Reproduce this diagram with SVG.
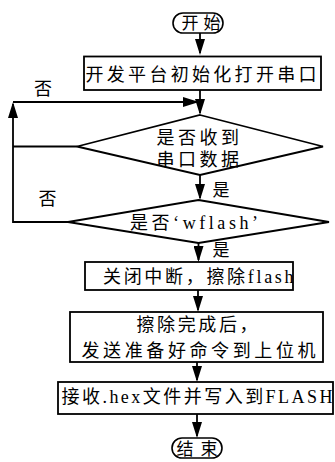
<svg xmlns="http://www.w3.org/2000/svg" width="335" height="462" viewBox="0 0 335 462">
  <defs>
    <marker id="arrow" markerUnits="userSpaceOnUse" markerWidth="16" markerHeight="10" refX="14" refY="5" orient="auto">
      <path d="M0,0 L16,5 L0,10 z" fill="#000"/>
    </marker>
    <style>
      .shape { fill: #fff; stroke: #000; stroke-width: 1.8; }
      .term { fill: #fff; stroke: #000; stroke-width: 1.6; }
      .wire { fill: none; stroke: #000; stroke-width: 1.8; }
      .arr { marker-end: url(#arrow); }
      text { font-family: "Liberation Serif", "Noto Sans CJK SC", serif; font-size: 18px; fill: #000; }
      .small { font-size: 17px; }
    </style>
  </defs>

  <rect width="335" height="462" fill="#fff"/>

  <!-- connectors -->
  <g id="connectors">
    <path class="wire arr" d="M200,33 V53"/>
    <path class="wire arr" d="M200,90 V113"/>
    <path class="wire" d="M77,146.5 H13"/>
    <path class="wire arr" d="M68,222 H13 V104"/>
    <path class="wire arr" d="M13,102 H197"/>
    <path class="wire arr" d="M200,175 V198"/>
    <path class="wire arr" d="M198.5,243 V260"/>
    <path class="wire arr" d="M198,290 V310"/>
    <path class="wire arr" d="M197,362 V380"/>
    <path class="wire arr" d="M197,414 V436"/>
    <text x="34" y="94.5">否</text>
    <text x="38.5" y="204.5">否</text>
    <text class="small" x="212.5" y="196">是</text>
    <text class="small" x="212.5" y="256">是</text>
  </g>

  <!-- start -->
  <g id="start">
    <rect class="term" x="173" y="13" width="50" height="20" rx="10" ry="10"/>
    <text class="small" x="181.5" y="29" textLength="39" lengthAdjust="spacing">开始</text>
  </g>

  <!-- platform init -->
  <g id="init">
    <rect class="shape" x="84" y="56.5" width="237" height="33.5"/>
    <text x="85.5" y="81" textLength="231" lengthAdjust="spacing">开发平台初始化打开串口</text>
  </g>

  <!-- serial data received? -->
  <g id="check-serial">
    <polygon class="shape" points="200,115 323,146.5 200,175 77,146.5"/>
    <text x="156.5" y="144" textLength="82.5" lengthAdjust="spacing">是否收到</text>
    <text x="156.5" y="166" textLength="82.5" lengthAdjust="spacing">串口数据</text>
  </g>

  <!-- 'wflash' command? -->
  <g id="check-wflash">
    <polygon class="shape" points="198.5,200 329,222 198.5,243 68,222"/>
    <text x="130" y="229" textLength="128" lengthAdjust="spacing">是否‘wflash’</text>
  </g>

  <!-- disable interrupts, erase flash -->
  <g id="erase">
    <rect class="shape" x="85" y="262" width="208" height="28"/>
    <text x="103" y="283" textLength="190.5" lengthAdjust="spacing">关闭中断，擦除flash</text>
  </g>

  <!-- report ready to host -->
  <g id="ready">
    <rect class="shape" x="70" y="312" width="253" height="50"/>
    <text x="136.5" y="331" textLength="121" lengthAdjust="spacing">擦除完成后，</text>
    <text x="81.5" y="356.5" textLength="234" lengthAdjust="spacing">发送准备好命令到上位机</text>
  </g>

  <!-- receive hex and program -->
  <g id="program">
    <rect class="shape" x="58" y="382" width="275" height="32"/>
    <text x="61.5" y="403" textLength="271" lengthAdjust="spacing">接收.hex文件并写入到FLASH</text>
  </g>

  <!-- end -->
  <g id="end">
    <rect class="term" x="172" y="438" width="50" height="20" rx="10" ry="10"/>
    <text class="small" x="176.5" y="455" textLength="41" lengthAdjust="spacing">结束</text>
  </g>
</svg>
